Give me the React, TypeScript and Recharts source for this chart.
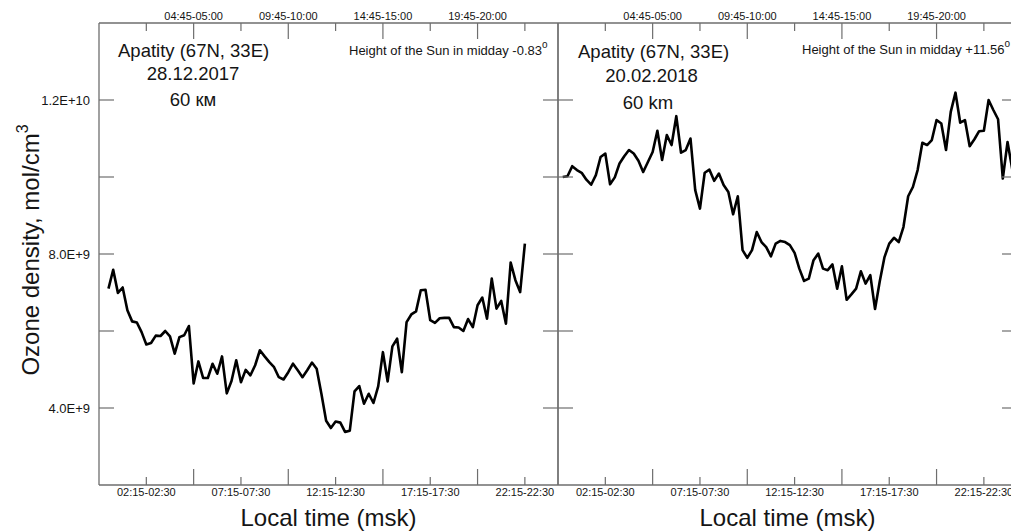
import { Line, LineChart, XAxis, YAxis } from "recharts";

// ozone density at 60 km, units of 1E+9 mol/cm3, one value per 15-min slot
const leftStartSlot = 1;
const leftOzone = [
  7.1, 7.59, 6.99, 7.13, 6.54, 6.25, 6.22, 5.97, 5.65, 5.69,
  5.88, 5.87, 6.0, 5.86, 5.41, 5.84, 5.89, 6.13, 4.64, 5.21,
  4.78, 4.78, 5.15, 4.89, 5.34, 4.38, 4.7, 5.24, 4.67, 4.99,
  4.85, 5.11, 5.5, 5.34, 5.19, 5.06, 4.8, 4.74, 4.93, 5.15,
  4.98, 4.8, 4.98, 5.18, 5.02, 4.37, 3.67, 3.48, 3.65, 3.62,
  3.38, 3.41, 4.43, 4.57, 4.11, 4.37, 4.13, 4.56, 5.45, 4.69,
  5.6, 5.8, 4.93, 6.23, 6.43, 6.51, 7.06, 7.07, 6.28, 6.21,
  6.33, 6.34, 6.34, 6.1, 6.09, 6.0, 6.31, 6.1, 6.67, 6.87,
  6.32, 7.36, 6.58, 6.78, 6.19, 7.78, 7.32, 7.01, 8.27,
];

const rightStartSlot = 0;
const rightOzone = [
  10.0, 10.02, 10.28, 10.18, 10.11, 9.93, 9.8, 10.05, 10.52, 10.61,
  9.81, 9.99, 10.35, 10.54, 10.7, 10.61, 10.42, 10.13, 10.39, 10.65,
  11.2, 10.44, 11.09, 10.83, 11.58, 10.63, 10.7, 11.0, 9.66, 9.18,
  10.11, 10.19, 9.9, 10.09, 9.79, 9.61, 9.03, 9.5, 8.1, 7.9,
  8.1, 8.57, 8.31, 8.18, 7.94, 8.27, 8.34, 8.31, 8.23, 8.03,
  7.62, 7.3, 7.36, 7.84, 8.01, 7.62, 7.58, 7.73, 7.1, 7.68,
  6.81, 6.95, 7.1, 7.55, 7.23, 7.45, 6.57, 7.29, 7.92, 8.27,
  8.42, 8.31, 8.7, 9.5, 9.74, 10.18, 10.89, 10.83, 10.96, 11.48,
  11.39, 10.7, 11.69, 12.19, 11.41, 11.48, 10.8, 10.98, 11.19, 11.2,
  12.0, 11.74, 11.5, 9.96, 10.91, 10.2,
];

const slotTicks = [9, 19, 29, 39, 49, 59, 69, 79, 89];
const bottomTickLabels: Record<number, string> = {
  9: "02:15-02:30",
  29: "07:15-07:30",
  49: "12:15-12:30",
  69: "17:15-17:30",
  89: "22:15-22:30",
};
const topTickLabels: Record<number, string> = {
  19: "04:45-05:00",
  39: "09:45-10:00",
  59: "14:45-15:00",
  79: "19:45-20:00",
};
const densityTicks = [4, 6, 8, 10, 12];
const densityTickLabels: Record<number, string> = {
  4: "4.0E+9",
  8: "8.0E+9",
  12: "1.2E+10",
};

const FONT = '"Liberation Sans", Arial, sans-serif';
const AXIS = "#6e6e6e";
const INK = "#151515";
const AX = 20; // room reserved for each axis

const toRows = (start: number, values: number[]) =>
  values.map((v, i) => ({ slot: start + i, density: v }));

function BottomTick({ x, y, payload }: any) {
  const label = bottomTickLabels[payload.value];
  return (
    <g>
      <line x1={x} x2={x} y1={y} y2={y - (label ? 8 : 16)} stroke={AXIS} strokeWidth={1.2} />
      {label && (
        <text x={x} y={y + 11} textAnchor="middle" fontSize={11} fill={INK} fontFamily={FONT}>
          {label}
        </text>
      )}
    </g>
  );
}

function TopTick({ x, y, payload }: any) {
  const label = topTickLabels[payload.value];
  return (
    <g>
      <line x1={x} x2={x} y1={y} y2={y + (label ? 16 : 8)} stroke={AXIS} strokeWidth={1.2} />
      {label && (
        <text x={x} y={y - 3} textAnchor="middle" fontSize={11} fill={INK} fontFamily={FONT}>
          {label}
        </text>
      )}
    </g>
  );
}

function LeftTick({ x, y, payload, showLabel }: any) {
  const label = showLabel ? densityTickLabels[payload.value] : undefined;
  return (
    <g>
      <line x1={x} x2={x + 15} y1={y} y2={y} stroke={AXIS} strokeWidth={1.2} />
      {label && (
        <text x={x - 9} y={y + 4.5} textAnchor="end" fontSize={13} fill={INK} fontFamily={FONT}>
          {label}
        </text>
      )}
    </g>
  );
}

function RightTick({ x, y }: any) {
  return <line x1={x} x2={x - 15} y1={y} y2={y} stroke={AXIS} strokeWidth={1.2} />;
}

function Panel({
  rows,
  left,
  margin,
  width,
  yLabels,
}: {
  rows: { slot: number; density: number }[];
  left: number;
  margin: { top: number; right: number; bottom: number; left: number };
  width: number;
  yLabels: boolean;
}) {
  const axisLine = { stroke: AXIS, strokeWidth: 1.3 };
  return (
    <div style={{ position: "absolute", left, top: 0 }}>
      <LineChart width={width} height={531} data={rows} margin={margin}>
        <XAxis
          xAxisId="b"
          dataKey="slot"
          type="number"
          domain={[-1, 96]}
          allowDataOverflow
          ticks={slotTicks}
          interval={0}
          height={AX}
          tickSize={0}
          tickMargin={0}
          tickLine={false}
          axisLine={axisLine}
          tick={(p: any) => <BottomTick {...p} />}
        />
        <XAxis
          xAxisId="t"
          orientation="top"
          dataKey="slot"
          type="number"
          domain={[-1, 96]}
          allowDataOverflow
          ticks={slotTicks}
          interval={0}
          height={AX}
          tickSize={0}
          tickMargin={0}
          tickLine={false}
          axisLine={axisLine}
          tick={(p: any) => <TopTick {...p} />}
        />
        <YAxis
          yAxisId="l"
          type="number"
          domain={[2, 14]}
          allowDataOverflow
          ticks={densityTicks}
          interval={0}
          width={AX}
          tickSize={0}
          tickMargin={0}
          tickLine={false}
          axisLine={axisLine}
          tick={(p: any) => <LeftTick {...p} showLabel={yLabels} />}
        />
        <YAxis
          yAxisId="r"
          orientation="right"
          type="number"
          domain={[2, 14]}
          allowDataOverflow
          ticks={densityTicks}
          interval={0}
          width={AX}
          tickSize={0}
          tickMargin={0}
          tickLine={false}
          axisLine={axisLine}
          tick={(p: any) => <RightTick {...p} />}
        />
        <Line
          xAxisId="b"
          yAxisId="l"
          type="linear"
          dataKey="density"
          stroke="#000"
          strokeWidth={2.6}
          strokeLinejoin="round"
          dot={false}
          isAnimationActive={false}
        />
      </LineChart>
    </div>
  );
}

export default function App() {
  return (
    <div
      style={{
        position: "absolute",
        left: 0,
        top: 0,
        width: 1011,
        height: 531,
        overflow: "hidden",
        background: "#fff",
        fontFamily: FONT,
      }}
    >
      <Panel
        rows={toRows(leftStartSlot, leftOzone)}
        left={0}
        width={580}
        margin={{ top: 23 - AX, right: 22 - AX, bottom: 46 - AX, left: 99 - AX }}
        yLabels
      />
      <Panel
        rows={toRows(rightStartSlot, rightOzone)}
        left={458}
        width={600}
        margin={{ top: 23 - AX, right: 41 - AX, bottom: 46 - AX, left: 100 - AX }}
        yLabels={false}
      />
      <svg
        width={1011}
        height={531}
        style={{ position: "absolute", left: 0, top: 0, pointerEvents: "none" }}
        fontFamily={FONT}
        fill={INK}
      >
        <text transform="rotate(-90)" x={-250} y={39} textAnchor="middle" fontSize={24}>
          Ozone density, mol/cm
          <tspan dy={-11} fontSize={16}>
            3
          </tspan>
        </text>
        <text x={328.5} y={526} textAnchor="middle" fontSize={24}>
          Local time (msk)
        </text>
        <text x={787.5} y={526} textAnchor="middle" fontSize={24}>
          Local time (msk)
        </text>

        <text x={118} y={57} fontSize={18.5}>Apatity (67N, 33E)</text>
        <text x={193} y={80} textAnchor="middle" fontSize={18.5}>28.12.2017</text>
        <text x={193} y={106} textAnchor="middle" fontSize={18.5}>60 км</text>
        <text x={349} y={55} fontSize={13}>
          Height of the Sun in midday -0.83
          <tspan dy={-7} fontSize={10}>o</tspan>
        </text>

        <text x={578} y={58} fontSize={18.5}>Apatity (67N, 33E)</text>
        <text x={651.5} y={82} textAnchor="middle" fontSize={18.5}>20.02.2018</text>
        <text x={648} y={109} textAnchor="middle" fontSize={18.5}>60 km</text>
        <text x={802} y={54} fontSize={13}>
          Height of the Sun in midday +11.56
          <tspan dy={-7} fontSize={10}>o</tspan>
        </text>
      </svg>
    </div>
  );
}
